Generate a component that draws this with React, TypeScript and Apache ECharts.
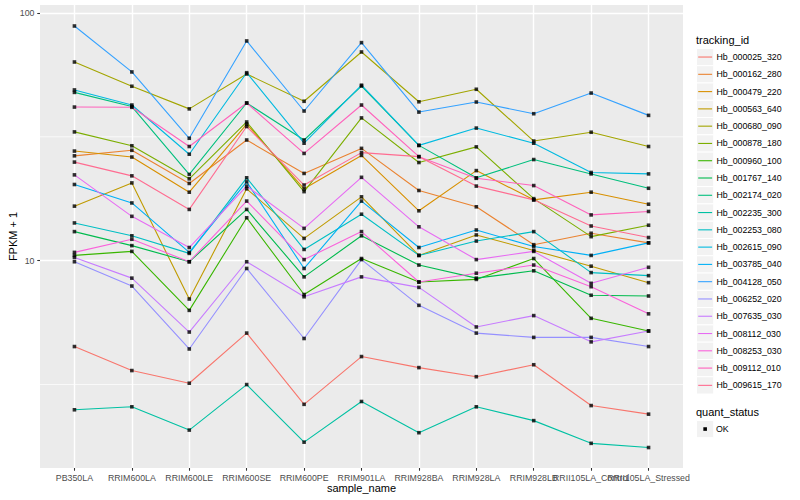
import React, { useEffect, useRef } from "react";
import * as echarts from "echarts";

const categories = [
  "PB350LA", "RRIM600LA", "RRIM600LE", "RRIM600SE", "RRIM600PE", "RRIM901LA",
  "RRIM928BA", "RRIM928LA", "RRIM928LB", "RRII105LA_Control", "RRII105LA_Stressed",
];

const trackingIds = [
  "Hb_000025_320", "Hb_000162_280", "Hb_000479_220", "Hb_000563_640", "Hb_000680_090",
  "Hb_000878_180", "Hb_000960_100", "Hb_001767_140", "Hb_002174_020", "Hb_002235_300",
  "Hb_002253_080", "Hb_002615_090", "Hb_003785_040", "Hb_004128_050", "Hb_006252_020",
  "Hb_007635_030", "Hb_008112_030", "Hb_008253_030", "Hb_009112_010", "Hb_009615_170",
];

const colors = [
  "#F8766D", "#EA8331", "#D89000", "#C09B00", "#A3A500", "#7CAE00", "#39B600", "#00BB4E",
  "#00BF7D", "#00C1A3", "#00BFC4", "#00BAE0", "#00B0F6", "#35A2FF", "#9590FF", "#C77CFF",
  "#E76BF3", "#FA62DB", "#FF62BC", "#FF6C91",
];

// FPKM + 1 per sample, one array per tracking_id
const hb000025_320 = [4.5, 3.6, 3.2, 5.1, 2.63, 4.1, 3.7, 3.4, 3.8, 2.6, 2.4];
const hb000162_280 = [26.5, 27.9, 20.5, 30.7, 22.5, 28.4, 19.2, 16.5, 11.6, 12.9, 11.8];
const hb000479_220 = [27.7, 26.2, 18.9, 35.6, 19.5, 26.6, 15.9, 23.1, 17.6, 18.9, 16.9];
const hb000563_640 = [16.6, 20.6, 7.0, 19.5, 12.3, 18.1, 10.5, 12.7, 11.0, 9.5, 8.15];
const hb000680_090 = [63.4, 50.6, 41.0, 56.7, 44.0, 69.6, 43.8, 49.2, 30.4, 33.0, 28.9];
const hb000878_180 = [33.1, 29.1, 21.4, 36.3, 19.0, 37.7, 24.9, 28.8, 17.8, 12.5, 13.9];
const hb000960_100 = [10.5, 10.9, 6.3, 14.9, 7.3, 10.2, 8.2, 8.4, 10.2, 5.85, 5.2];
const hb001767_140 = [13.1, 11.5, 9.9, 16.1, 8.6, 12.6, 9.6, 8.5, 9.1, 7.25, 7.2];
const hb002174_020 = [47.8, 41.9, 22.3, 43.3, 30.7, 50.7, 29.2, 21.6, 25.6, 22.4, 19.6];
const hb002235_300 = [2.5, 2.57, 2.07, 3.16, 1.85, 2.7, 2.02, 2.57, 2.26, 1.83, 1.76];
const hb002253_080 = [14.2, 12.6, 10.7, 21.6, 11.1, 15.4, 10.5, 12.0, 13.1, 8.95, 8.7];
const hb002615_090 = [48.9, 42.5, 26.9, 57.4, 29.8, 51.1, 29.2, 34.3, 29.8, 22.7, 22.4];
const hb003785_040 = [20.3, 17.1, 10.8, 20.8, 9.3, 17.4, 11.3, 13.3, 11.4, 10.5, 11.8];
const hb004128_050 = [88.6, 57.8, 31.2, 77.1, 40.2, 75.9, 39.8, 43.7, 39.2, 47.5, 38.6];
const hb006252_020 = [9.9, 7.9, 4.4, 9.3, 4.85, 10.1, 6.6, 5.1, 4.9, 4.9, 4.5];
const hb007635_030 = [10.3, 8.5, 5.15, 9.9, 7.15, 8.6, 7.8, 5.4, 6.0, 4.7, 5.2];
const hb008112_030 = [22.2, 15.1, 11.3, 20.0, 13.5, 21.7, 13.7, 10.1, 10.9, 8.1, 9.4];
const hb008253_030 = [10.8, 12.2, 9.9, 17.4, 10.1, 13.1, 8.2, 8.9, 9.6, 7.85, 6.1];
const hb009112_010 = [41.7, 41.6, 28.9, 43.3, 27.1, 42.5, 26.3, 21.5, 20.1, 15.3, 15.8];
const hb009615_170 = [25.0, 22.0, 16.1, 34.8, 20.2, 27.3, 26.3, 20.0, 17.6, 13.8, 12.4];

const seriesValues = [
  hb000025_320, hb000162_280, hb000479_220, hb000563_640, hb000680_090,
  hb000878_180, hb000960_100, hb001767_140, hb002174_020, hb002235_300,
  hb002253_080, hb002615_090, hb003785_040, hb004128_050, hb006252_020,
  hb007635_030, hb008112_030, hb008253_030, hb009112_010, hb009615_170,
];

const yMajorBreaks = [10, 100];
const yMinorBreaks = [3.1623, 31.623];
const yMin = 1.455;
const yMax = 107.7;
const quantStatus = ["OK"];

export default function App() {
  const ref = useRef<HTMLDivElement>(null);

  useEffect(() => {
    const chart = echarts.init(ref.current!, null, { renderer: "svg" });
    const font = "'Liberation Sans', Arial, Helvetica, sans-serif";
    const catIdx = categories.map((_, i) => i);
    const evenIdx = catIdx.filter((i) => i % 2 === 0);
    const oddIdx = catIdx.filter((i) => i % 2 === 1);

    const lineSeries: any[] = seriesValues.map((vals, i) => ({
      type: "line",
      name: trackingIds[i],
      data: vals.map((v, j) => [j, v]),
      showSymbol: false,
      symbol: "none",
      lineStyle: { color: colors[i], width: 1.1 },
      itemStyle: { color: colors[i] },
      z: 3,
      silent: true,
      emphasis: { disabled: true },
    }));
    const pointSeries: any[] = seriesValues.map((vals) => ({
      type: "scatter",
      data: vals.map((v, j) => [j, v]),
      symbol: "rect",
      symbolSize: 3.6,
      itemStyle: { color: "#000" },
      z: 4,
      silent: true,
      emphasis: { disabled: true },
    }));

    const elements: any[] = [];
    elements.push({
      type: "text", left: 696, top: 34,
      style: { text: "tracking_id", fontSize: 11, fontFamily: font, fill: "#000" },
    });
    const keySize = 17.28;
    const firstTop = 48.4;
    trackingIds.forEach((id, i) => {
      const top = firstTop + i * keySize;
      elements.push({
        type: "rect",
        shape: { x: 696.5, y: top, width: keySize, height: keySize },
        style: { fill: "#F2F2F2", stroke: "#FFFFFF", lineWidth: 1 },
      });
      elements.push({
        type: "line",
        shape: { x1: 698.2, y1: top + keySize / 2, x2: 712.1, y2: top + keySize / 2 },
        style: { stroke: colors[i], lineWidth: 1.1 },
      });
      elements.push({
        type: "text", x: 716.5, y: top + keySize / 2,
        style: { text: id, fontSize: 8.8, fontFamily: font, fill: "#000", verticalAlign: "middle", align: "left" },
      });
    });
    elements.push({
      type: "text", left: 696, top: 406,
      style: { text: "quant_status", fontSize: 11, fontFamily: font, fill: "#000" },
    });
    quantStatus.forEach((q, i) => {
      const top = 420.4 + i * keySize;
      elements.push({
        type: "rect",
        shape: { x: 696.5, y: top, width: keySize, height: keySize },
        style: { fill: "#F2F2F2", stroke: "#FFFFFF", lineWidth: 1 },
      });
      elements.push({
        type: "rect",
        shape: { x: 696.5 + keySize / 2 - 1.8, y: top + keySize / 2 - 1.8, width: 3.6, height: 3.6 },
        style: { fill: "#000" },
      });
      elements.push({
        type: "text", x: 716, y: top + keySize / 2,
        style: { text: q, fontSize: 8.8, fontFamily: font, fill: "#000", verticalAlign: "middle", align: "left" },
      });
    });

    const labelStyle = {
      formatter: (v: number) => categories[Math.round(v)] ?? "",
      color: "#4D4D4D", fontSize: 8.8, fontFamily: font, margin: 5,
      hideOverlap: false, showMinLabel: true, showMaxLabel: true,
    };

    chart.setOption({
      animation: false,
      backgroundColor: "#FFFFFF",
      textStyle: { fontFamily: font },
      grid: {
        left: 40, top: 5, width: 643, height: 463,
        show: true, backgroundColor: "#EBEBEB", borderWidth: 0,
        containLabel: false,
        outerBoundsMode: "none",
      },
      xAxis: [
        {
          type: "value",
          min: -0.6,
          max: 10.6,
          name: "sample_name",
          nameLocation: "middle",
          nameGap: 14.5,
          nameMoveOverlap: false,
          nameTextStyle: { fontSize: 11, color: "#000", fontFamily: font },
          axisLine: { show: false, onZero: false },
          axisTick: { show: true, length: 2.75, lineStyle: { color: "#333333", width: 1.07 }, customValues: catIdx },
          axisLabel: { ...labelStyle, customValues: evenIdx },
          splitLine: { show: true, lineStyle: { color: "#FFFFFF", width: 1.4 } },
        },
        {
          type: "value",
          min: -0.6,
          max: 10.6,
          position: "bottom",
          axisLine: { show: false, onZero: false },
          axisTick: { show: false },
          axisLabel: { ...labelStyle, customValues: oddIdx },
          splitLine: { show: false },
        },
      ],
      yAxis: {
        type: "log",
        logBase: 10,
        min: yMin,
        max: yMax,
        position: "left",
        name: "FPKM + 1",
        nameLocation: "middle",
        nameGap: 22,
        nameMoveOverlap: false,
        nameTextStyle: { fontSize: 11, color: "#000", fontFamily: font },
        axisLine: { show: false, onZero: false },
        axisTick: { show: true, length: 2.75, lineStyle: { color: "#333333", width: 1.07 }, customValues: yMajorBreaks },
        axisLabel: {
          customValues: yMajorBreaks,
          formatter: (v: number) => String(Math.round(v)),
          color: "#4D4D4D", fontSize: 8.8, fontFamily: font, margin: 5.5,
          hideOverlap: false,
        },
        splitLine: { show: true, lineStyle: { color: "#FFFFFF", width: 1.4 } },
      },
      series: [...lineSeries, ...pointSeries],
      graphic: { elements },
    });

    // minor horizontal gridlines, placed through the y axis scale
    const xLeft = chart.convertToPixel({ xAxisIndex: 0 }, -0.6) as number;
    const xRight = chart.convertToPixel({ xAxisIndex: 0 }, 10.6) as number;
    const minorLines = yMinorBreaks.map((v) => {
      const y = chart.convertToPixel({ yAxisIndex: 0 }, v) as number;
      return {
        type: "line",
        z: 1,
        silent: true,
        shape: { x1: xLeft, y1: y, x2: xRight, y2: y },
        style: { stroke: "#FFFFFF", lineWidth: 0.7 },
      };
    });
    chart.setOption({ graphic: { elements: [...elements, ...minorLines] } });

    return () => chart.dispose();
  }, []);

  return (
    <div
      ref={ref}
      style={{ position: "absolute", left: 0, top: 0, width: 800, height: 500 }}
    />
  );
}
